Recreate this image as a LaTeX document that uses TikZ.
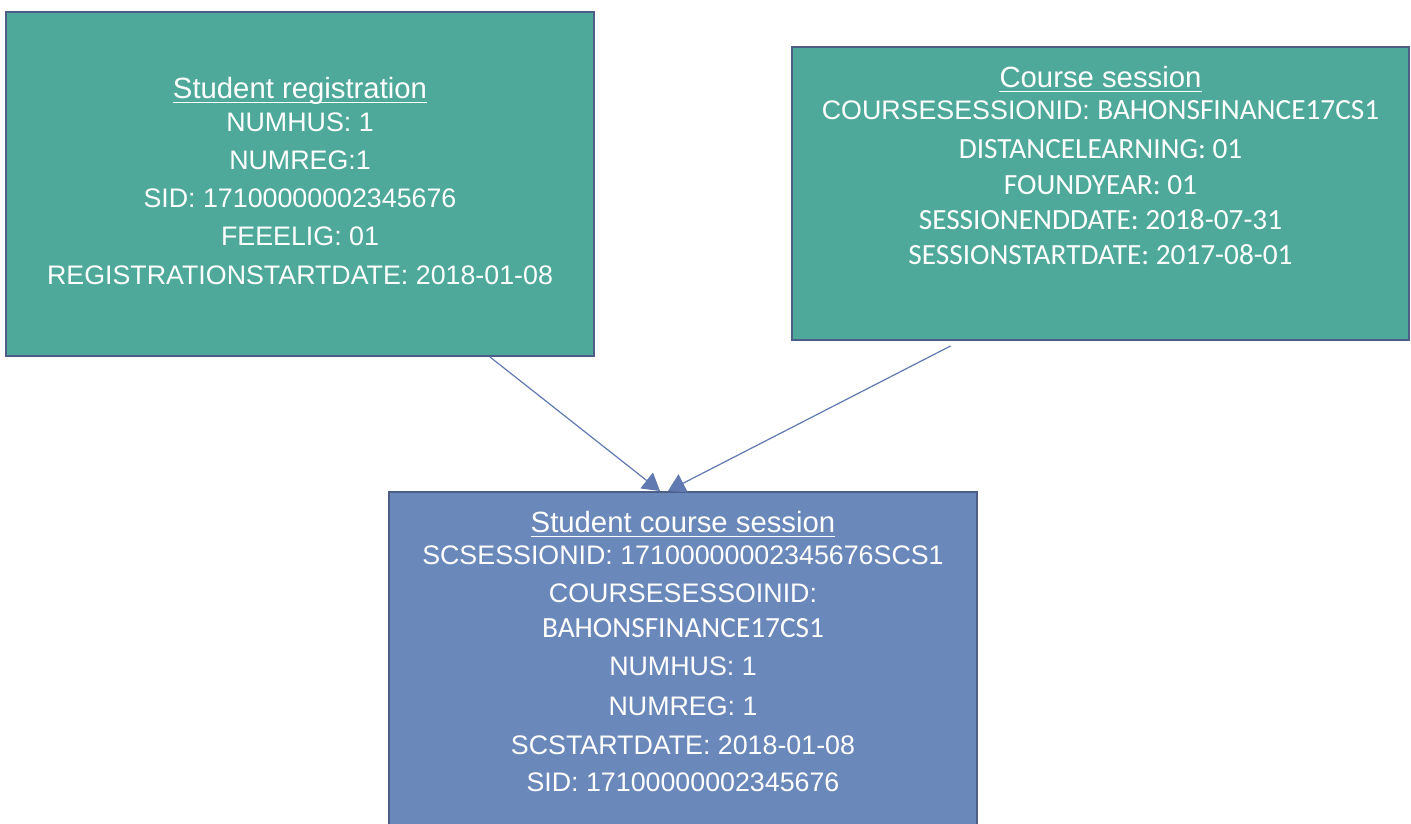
\documentclass[tikz,border=0pt]{standalone}
\usepackage{fontspec}
\setmainfont{Liberation Sans}
\newfontfamily\calfont{Carlito}
\usetikzlibrary{arrows.meta,calc}
\definecolor{tealfill}{HTML}{4EA99B}
\definecolor{bluefill}{HTML}{6A88BA}
\definecolor{boxborder}{HTML}{4D5F88}
\definecolor{arrowcol}{HTML}{6079B0}
\newcommand\arfont{\fontsize{26.8}{30}\selectfont}
\newcommand\cafont{\calfont\fontsize{29.3}{33}\selectfont}
\tikzset{
  entity/.style={draw=boxborder,line width=2pt,rectangle,inner sep=0pt},
  ttl/.style={text=white,inner sep=0pt,anchor=base,font=\fontsize{29.3}{32}\selectfont},
  ln/.style={text=white,inner sep=0pt,anchor=base,font=\arfont},
  cl/.style={text=white,inner sep=0pt,anchor=base,font=\cafont},
  uline/.style={white,line width=1.6pt},
  conn/.style={arrowcol,line width=1.2pt,-{Triangle[width=20pt,length=17pt]}}
}
\begin{document}
\begin{tikzpicture}[x=1pt,y=-1pt]
\useasboundingbox[fill=white] (0,0) rectangle (1411,824);
% boxes
\node[entity,fill=tealfill,minimum width=588pt,minimum height=344pt] (boxA) at (300,184) {};
\node[entity,fill=tealfill,minimum width=617pt,minimum height=293pt] (boxB) at (1100.5,193.5) {};
\node[entity,fill=bluefill,minimum width=588pt,minimum height=334pt] (boxC) at (683,659) {};
% box A text
\node[ttl] (a0) at (300,98.5) {Student registration};
\draw[uline] ([yshift=-4pt]a0.base west) -- ([yshift=-4pt]a0.base east);
\node[ln] (a1) at (300,131.5) {NUMHUS: 1};
\node[ln] (a2) at (300,169.5) {NUMREG:1};
\node[ln] (a3) at (300,207.5) {SID: 17100000002345676};
\node[ln] (a4) at (300,245.5) {FEEELIG: 01};
\node[ln] (a5) at (300,284.5) {REGISTRATIONSTARTDATE: 2018-01-08};
% box B text
\node[ttl] (b0) at (1100.5,87.5) {Course session};
\draw[uline] ([yshift=-4pt]b0.base west) -- ([yshift=-4pt]b0.base east);
\node[ln] (b1) at (1100.5,120) {COURSESESSIONID: {\cafont BAHONSFINANCE17CS1}};
\node[cl] (b2) at (1100.5,158) {DISTANCELEARNING: 01};
\node[cl] (b3) at (1100.5,194) {FOUNDYEAR: 01};
\node[cl] (b4) at (1100.5,229) {SESSIONENDDATE: 2018-07-31};
\node[cl] (b5) at (1100.5,264) {SESSIONSTARTDATE: 2017-08-01};
% box C text
\node[ttl] (c0) at (683,532.5) {Student course session};
\draw[uline] ([yshift=-4pt]c0.base west) -- ([yshift=-4pt]c0.base east);
\node[ln] (c1) at (683,564.5) {SCSESSIONID: 17100000002345676SCS1};
\node[ln] (c2) at (683,602.5) {COURSESESSOINID:};
\node[cl] (c3) at (683,637) {BAHONSFINANCE17CS1};
\node[ln] (c4) at (683,675.5) {NUMHUS: 1};
\node[ln] (c5) at (683,715.5) {NUMREG: 1};
\node[ln] (c6) at (683,754.5) {SCSTARTDATE: 2018-01-08};
\node[ln] (c7) at (683,791.5) {SID: 17100000002345676};
% connectors
\draw[conn] ([xshift=190pt]boxA.south) -- ([xshift=-23pt]boxC.north);
\draw[conn] ([xshift=-150pt,yshift=-5pt]boxB.south) -- ([xshift=-15pt]boxC.north);
\end{tikzpicture}
\end{document}
